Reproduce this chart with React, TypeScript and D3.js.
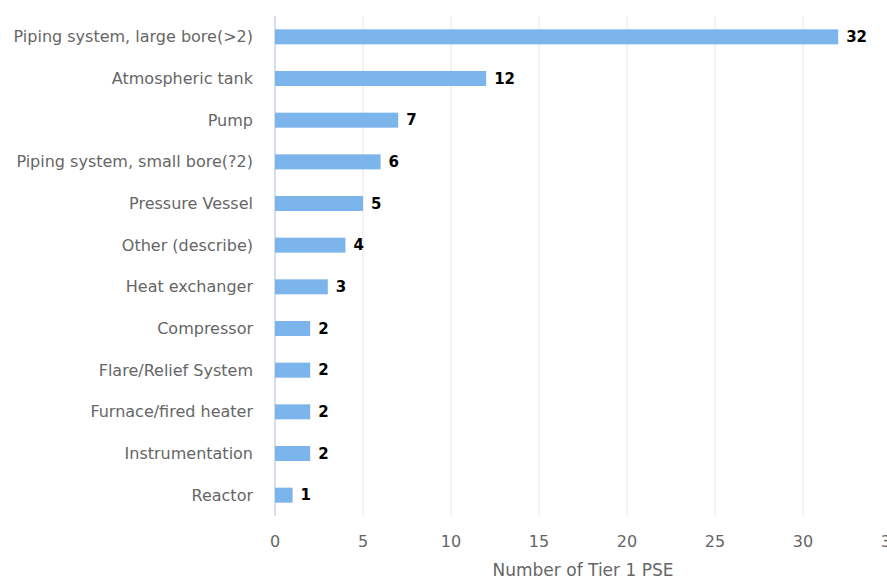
import React from "react";
import * as d3 from "d3";

const categories = [
  "Piping system, large bore(>2)",
  "Atmospheric tank",
  "Pump",
  "Piping system, small bore(?2)",
  "Pressure Vessel",
  "Other (describe)",
  "Heat exchanger",
  "Compressor",
  "Flare/Relief System",
  "Furnace/fired heater",
  "Instrumentation",
  "Reactor",
];
const values = [32, 12, 7, 6, 5, 4, 3, 2, 2, 2, 2, 1];
const xTicks = [0, 5, 10, 15, 20, 25, 30, 35];
const xTitle = "Number of Tier 1 PSE";

const W = 887;
const H = 579;
const left = 275;
const right = 891;
const top = 16;
const bottom = 516;
const font = "'DejaVu Sans', Verdana, sans-serif";

export default function App() {
  const x = d3.scaleLinear().domain([0, 35]).range([left, right]);
  const y = d3.scaleBand<string>().domain(categories).range([top, bottom]);
  const barH = 15;
  return (
    <svg
      width={W}
      height={H}
      style={{ position: "absolute", left: 0, top: 0, display: "block" }}
      fontFamily={font}
    >
      <rect width={W} height={H} fill="#fff" />
      {xTicks.map((t) => (
        <line
          key={"g" + t}
          x1={x(t)}
          x2={x(t)}
          y1={top}
          y2={bottom}
          stroke="#e6e6e6"
          strokeWidth={1}
        />
      ))}
      <line x1={left} x2={left} y1={top} y2={bottom} stroke="#ccd6eb" strokeWidth={1.5} />
      {categories.map((c, i) => {
        const cy = (y(c) ?? 0) + y.bandwidth() / 2;
        return (
          <g key={c}>
            <rect
              x={x(0)}
              y={cy - barH / 2}
              width={x(values[i]) - x(0)}
              height={barH}
              fill="#7cb5ec"
            />
            <text
              x={253}
              y={cy}
              dy="0.35em"
              textAnchor="end"
              fontSize={16}
              fill="#666666"
            >
              {c}
            </text>
            <text
              x={x(values[i]) + 8}
              y={cy}
              dy="0.35em"
              fontSize={15}
              fontWeight="bold"
              fill="#000"
            >
              {values[i]}
            </text>
          </g>
        );
      })}
      {xTicks.map((t) => (
        <text
          key={"t" + t}
          x={x(t)}
          y={541}
          dy="0.35em"
          textAnchor="middle"
          fontSize={16}
          fill="#666666"
        >
          {t}
        </text>
      ))}
      <text
        x={(left + right) / 2}
        y={570}
        dy="0.35em"
        textAnchor="middle"
        fontSize={17}
        fill="#666666"
      >
        {xTitle}
      </text>
    </svg>
  );
}
